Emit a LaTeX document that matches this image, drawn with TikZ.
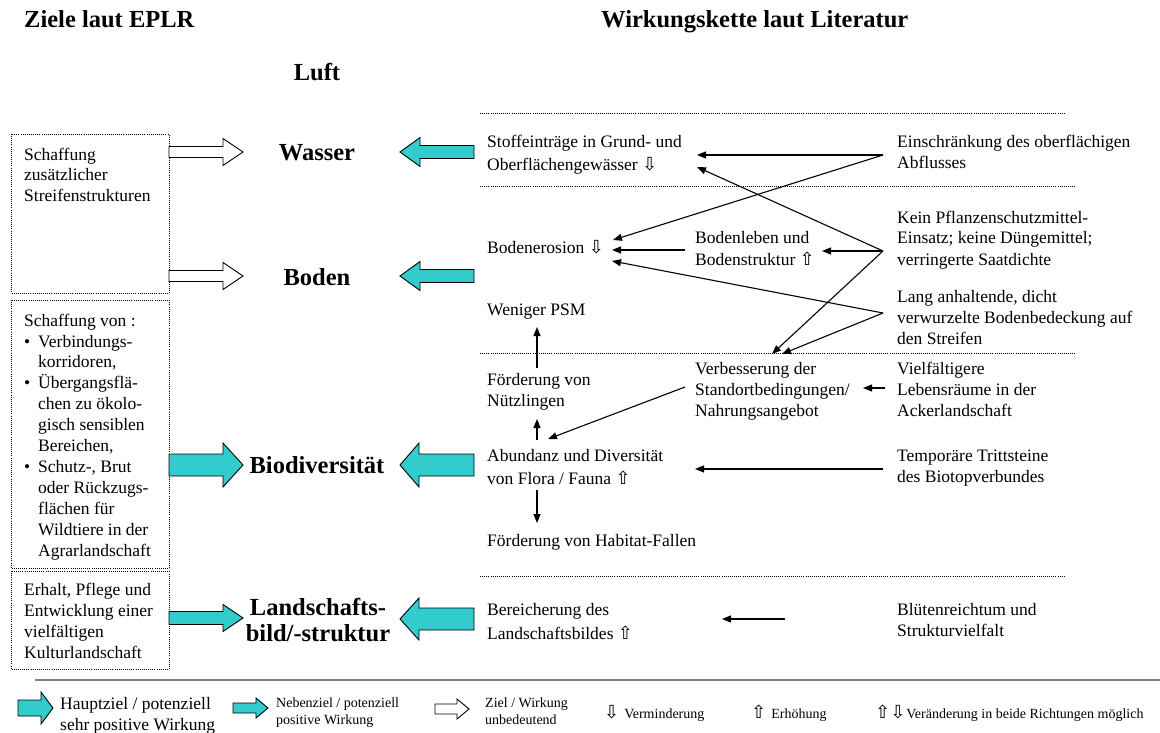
\documentclass[tikz,border=0pt]{standalone}
\usepackage{fontspec}
\setmainfont{Liberation Serif}
\newfontfamily\arrowfont{DejaVu Sans}
\usetikzlibrary{arrows.meta,calc}
\definecolor{tealfill}{HTML}{33CCCC}
\definecolor{rulegray}{HTML}{808080}

% outline arrows marking a decrease / an increase
\newcommand{\decr}{{\arrowfont\fontsize{18}{18}\selectfont ⇩}}
\newcommand{\incr}{{\arrowfont\fontsize{18}{18}\selectfont ⇧}}

% block arrow: style, tail x, head base x, tip x, axis y, shaft half-height, head half-height
\newcommand{\blockarr}[7]{%
  \draw[#1] (#2,{#5-#6}) -- (#3,{#5-#6}) -- (#3,{#5-#7}) -- (#4,#5)
    -- (#3,{#5+#7}) -- (#3,{#5+#6}) -- (#2,{#5+#6}) -- cycle;}

\begin{document}
\begin{tikzpicture}[x=1pt,y=-1pt,
  % multi-line nodes sit on the baseline of their last line
  body/.style={anchor=base west, inner sep=0pt, align=left, font=\fontsize{17.5}{21}\selectfont},
  boxtext/.style={anchor=base west, inner sep=0pt, align=left, font=\fontsize{17.5}{20.9}\selectfont},
  topic/.style={anchor=base, inner sep=0pt, align=center, font=\bfseries\fontsize{24.5}{26}\selectfont},
  heading/.style={anchor=base west, inner sep=0pt, font=\bfseries\fontsize{24.5}{26}\selectfont},
  legendbig/.style={anchor=base west, inner sep=0pt, align=left, font=\fontsize{17.5}{21}\selectfont},
  legendsmall/.style={anchor=base west, inner sep=0pt, align=left, font=\fontsize{14}{17}\selectfont},
  link/.style={line width=1.1pt, -{Triangle[length=9pt,width=7pt]}},
  sep/.style={line width=0.8pt, dash pattern=on 0.8pt off 1.3pt},
  mainarrow/.style={draw=black, line width=0.9pt, fill=tealfill},
  plainarrow/.style={draw=black, line width=0.9pt, fill=white},
]
\useasboundingbox (0,0) rectangle (1160,733);

% ---------- headings ----------
\node[heading] (hgoals) at (24,28) {Ziele laut EPLR};
\node[heading] (hchain) at (601,28) {Wirkungskette laut Literatur};
\node[topic] (luft) at (317,81) {Luft};

% ---------- goal boxes ----------
\draw[sep] (11,134) rectangle (169,293);
\draw[sep] (11,300) rectangle (169,568);
\draw[sep] (11,571) rectangle (169,669);

\node[boxtext, font=\fontsize{17.5}{20.5}\selectfont] (goal1) at (24,201) {Schaffung\\zusätzlicher\\Streifenstrukturen};
\node[boxtext] (goal2) at (24,556) {Schaffung von :\\
  \makebox[14pt][l]{\textbullet}Verbindungs-\\
  \hspace*{14pt}korridoren,\\
  \makebox[14pt][l]{\textbullet}Übergangsflä-\\
  \hspace*{14pt}chen zu ökolo-\\
  \hspace*{14pt}gisch sensiblen\\
  \hspace*{14pt}Bereichen,\\
  \makebox[14pt][l]{\textbullet}Schutz-, Brut\\
  \hspace*{14pt}oder Rückzugs-\\
  \hspace*{14pt}flächen für\\
  \hspace*{14pt}Wildtiere in der\\
  \hspace*{14pt}Agrarlandschaft};
\node[boxtext] (goal3) at (24,658) {Erhalt, Pflege und\\Entwicklung einer\\vielfältigen\\Kulturlandschaft};

% ---------- protected goods ----------
\node[topic] (wasser) at (317,161) {Wasser};
\node[topic] (boden) at (317,285) {Boden};
\node[topic] (bio) at (317,473) {Biodiversität};
\node[topic] (land) at (318,641) {Landschafts-\\bild/-struktur};

% ---------- block arrows, goals side ----------
\blockarr{plainarrow}{169}{223}{243}{152}{5.5}{13.5}
\blockarr{plainarrow}{169}{223}{243}{276}{5.5}{13.5}
\blockarr{mainarrow}{169}{223}{243}{465}{11}{22}
\blockarr{mainarrow}{169}{223}{243}{618}{6.5}{13.5}

% ---------- block arrows, effect chain side ----------
\blockarr{mainarrow}{474}{420}{400}{152}{6.5}{14.5}
\blockarr{mainarrow}{474}{420}{400}{276}{6.5}{14.5}
\blockarr{mainarrow}{474}{419}{400}{465}{11}{22}
\blockarr{mainarrow}{474}{419}{400}{619}{11}{21}

% ---------- section separators ----------
\draw[sep] (480,113) -- (1065,113);
\draw[sep] (480,186) -- (1075,186);
\draw[sep] (480,353) -- (1075,353);
\draw[sep] (480,576) -- (1065,576);

% ---------- effects ----------
\node[body] (stoff) at (487,171) {Stoffeinträge in Grund- und\\[2pt]Oberflächengewässer \decr};
\node[body] (erosion) at (487,253) {Bodenerosion \decr};
\node[body] (leben) at (695,265) {Bodenleben und\\[1pt]Bodenstruktur \incr};
\node[body] (psm) at (487,315) {Weniger PSM};
\node[body] (nuetz) at (487,406) {Förderung von\\Nützlingen};
\node[body] (verb) at (695,416) {Verbesserung der\\Standortbedingungen/\\Nahrungsangebot};
\node[body] (abund) at (487,484) {Abundanz und Diversität\\[2pt]von Flora / Fauna \incr};
\node[body] (habitat) at (487,546) {Förderung von Habitat-Fallen};
\node[body] (bereich) at (487,639) {Bereicherung des\\[3pt]Landschaftsbildes \incr};

% ---------- measures ----------
\node[body] (einschr) at (897,169) {Einschränkung des oberflächigen\\Abflusses};
\node[body] (kein) at (897,265) {Kein Pflanzenschutzmittel-\\Einsatz; keine Düngemittel;\\verringerte Saatdichte};
\node[body] (lang) at (897,344) {Lang anhaltende, dicht\\verwurzelte Bodenbedeckung auf\\den Streifen};
\node[body] (vielf) at (897,416) {Vielfältigere\\Lebensräume in der\\Ackerlandschaft};
\node[body] (tempo) at (897,482) {Temporäre Trittsteine\\des Biotopverbundes};
\node[body] (bluete) at (897,636) {Blütenreichtum und\\Strukturvielfalt};

% ---------- connector ends ----------
\coordinate (einschr-out) at (883,155);
\coordinate (kein-out) at (883,251);
\coordinate (lang-out) at (883,313);
\coordinate (vielf-out) at (885,388);
\coordinate (tempo-out) at (883,469);
\coordinate (bluete-out) at (785,619);
\coordinate (stoff-in1) at (697,155);
\coordinate (stoff-in2) at (697,167);
\coordinate (erosion-in1) at (613,240);
\coordinate (erosion-in2) at (612,250);
\coordinate (erosion-in3) at (612,261);
\coordinate (leben-in) at (822,251);
\coordinate (leben-out) at (685,250);
\coordinate (verb-in1) at (772,354);
\coordinate (verb-in2) at (782,354);
\coordinate (verb-in3) at (863,388);
\coordinate (verb-out) at (685,387);
\coordinate (psm-in) at (537,327);
\coordinate (nuetz-out) at (537,368);
\coordinate (nuetz-in) at (537,419);
\coordinate (abund-up) at (537,440);
\coordinate (abund-in1) at (548,439);
\coordinate (abund-in2) at (695,469);
\coordinate (abund-down) at (537,490);
\coordinate (habitat-in) at (537,523);
\coordinate (bereich-in) at (722,619);

% ---------- effect chain links ----------
\draw[link] (einschr-out) -- (stoff-in1);
\draw[link] (einschr-out) -- (erosion-in1);
\draw[link] (kein-out) -- (stoff-in2);
\draw[link] (kein-out) -- (leben-in);
\draw[link] (kein-out) -- (verb-in1);
\draw[link] (leben-out) -- (erosion-in2);
\draw[link] (lang-out) -- (erosion-in3);
\draw[link] (lang-out) -- (verb-in2);
\draw[link] (nuetz-out) -- (psm-in);
\draw[link] (abund-up) -- (nuetz-in);
\draw[link] (verb-out) -- (abund-in1);
\draw[link] (vielf-out) -- (verb-in3);
\draw[link] (tempo-out) -- (abund-in2);
\draw[link] (abund-down) -- (habitat-in);
\draw[link] (bluete-out) -- (bereich-in);

% ---------- legend ----------
\draw[rulegray, line width=1.5pt] (35,680) -- (1160,680);
\blockarr{mainarrow}{18}{41}{53}{708}{8}{16}
\node[legendbig] (lmain) at (60,730) {Hauptziel / potenziell\\sehr positive Wirkung};
\blockarr{mainarrow}{233}{256}{268}{708}{5}{10}
\node[legendsmall] (lside) at (276,724) {Nebenziel / potenziell\\positive Wirkung};
\blockarr{plainarrow}{435}{457}{469}{709}{5}{10}
\node[legendsmall] (lminor) at (485,724) {Ziel / Wirkung\\unbedeutend};
\node[legendsmall] (ldown) at (604,718) {\decr\hspace{5pt}Verminderung};
\node[legendsmall] (lup) at (751,718) {\incr\hspace{5pt}Erhöhung};
\node[legendsmall] (lboth) at (875,718) {\incr\decr\hspace{1pt}Veränderung in beide Richtungen möglich};
\end{tikzpicture}
\end{document}
